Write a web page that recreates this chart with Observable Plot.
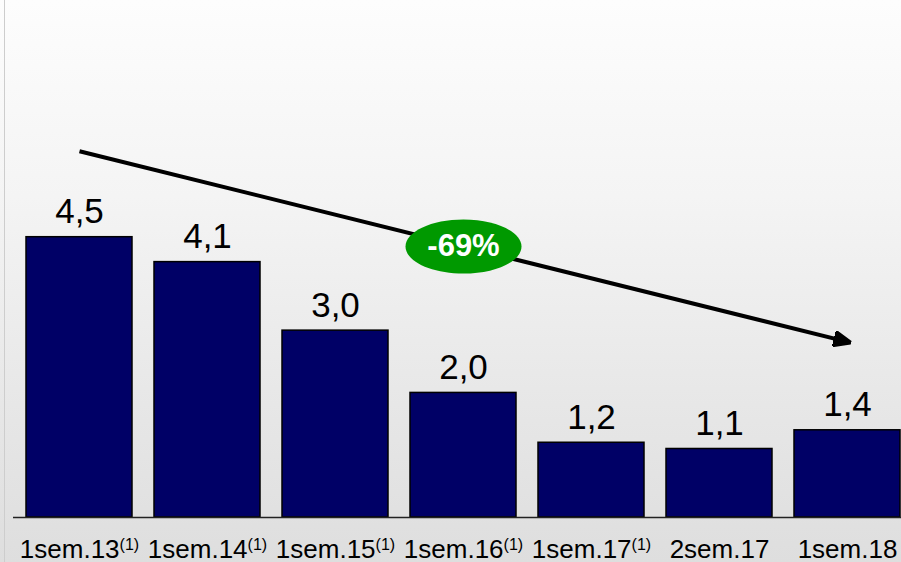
<!DOCTYPE html>
<html>
<head>
<meta charset="utf-8">
<script src="https://cdn.jsdelivr.net/npm/d3@7"></script>
<script src="https://cdn.jsdelivr.net/npm/@observablehq/plot@0.6"></script>
<style>
html, body { margin: 0; padding: 0; width: 901px; height: 562px; overflow: hidden; }
body {
  position: relative;
  background: linear-gradient(to bottom, #fdfdfd 0%, #f4f4f4 35%, #e6e6e6 75%, #dedede 100%);
  font-family: "Liberation Sans", Arial, sans-serif;
}
#edge { position: absolute; left: 4px; top: 0; width: 1px; height: 562px; background: #cdcdcd; }
#chart { position: absolute; left: 0; top: 0; }
</style>
</head>
<body>
<div id="edge"></div>
<div id="chart"></div>
<script>
// ---- data ----
const categories = ["1sem.13", "1sem.14", "1sem.15", "1sem.16", "1sem.17", "2sem.17", "1sem.18"];
const notes = ["(1)", "(1)", "(1)", "(1)", "(1)", "", ""];
const values = [4.5, 4.1, 3.0, 2.0, 1.2, 1.1, 1.4];
const valueLabels = ["4,5", "4,1", "3,0", "2,0", "1,2", "1,1", "1,4"];
const trendFrom = ["1sem.13"];
const trendTo = ["1sem.18"];
const trendStart = [5.88];
const trendEnd = [2.82];
const changeLabel = ["-69%"];
const changeAt = ["1sem.16"];
const changeLevel = [4.35];

// ---- tables built from the arrays ----
const data = categories.map((c, i) => ({cat: c, value: values[i], label: valueLabels[i]}));
const trend = trendFrom.map((f, i) => ({from: f, to: trendTo[i], y1: trendStart[i], y2: trendEnd[i]}));
const change = changeLabel.map((t, i) => ({cat: changeAt[i], y: changeLevel[i], text: t}));

const ellipse = {
  draw(ctx) {
    const rx = 58, ry = 27, k = 0.5523;
    ctx.moveTo(rx, 0);
    ctx.bezierCurveTo(rx, ry * k, rx * k, ry, 0, ry);
    ctx.bezierCurveTo(-rx * k, ry, -rx, ry * k, -rx, 0);
    ctx.bezierCurveTo(-rx, -ry * k, -rx * k, -ry, 0, -ry);
    ctx.bezierCurveTo(rx * k, -ry, rx, -ry * k, rx, 0);
    ctx.closePath();
  }
};

const chart = Plot.plot({
  width: 913,
  height: 562,
  marginLeft: 13,
  marginRight: 0,
  marginTop: 0,
  marginBottom: 45,
  style: "background: transparent; max-width: none; overflow: visible; font-family: 'Liberation Sans', Arial, sans-serif; color: black;",
  x: {domain: categories, paddingInner: 0.17, paddingOuter: 0.085},
  y: {domain: [0, 8.3], axis: null},
  marks: [
    Plot.barY(data, {x: "cat", y: "value", fill: "#000066", stroke: "black", strokeWidth: 1.5}),
    Plot.ruleY([0], {stroke: "#222", strokeWidth: 1.5}),
    Plot.text(data, {x: "cat", y: "value", text: "label", dy: -14, lineAnchor: "bottom", fontSize: 35, fill: "black"}),
    Plot.link(trend, {
      x1: "from", y1: "y1", x2: "to", y2: "y2",
      stroke: "black", strokeWidth: 4,
      render(index, scales, values, dimensions, context, next) {
        const g = next(index, scales, values, dimensions, context);
        const ns = "http://www.w3.org/2000/svg";
        const defs = document.createElementNS(ns, "defs");
        const marker = document.createElementNS(ns, "marker");
        marker.setAttribute("id", "trend-head");
        marker.setAttribute("markerUnits", "userSpaceOnUse");
        marker.setAttribute("markerWidth", "18");
        marker.setAttribute("markerHeight", "16");
        marker.setAttribute("viewBox", "0 0 18 16");
        marker.setAttribute("refX", "14");
        marker.setAttribute("refY", "8");
        marker.setAttribute("orient", "auto");
        const tri = document.createElementNS(ns, "path");
        tri.setAttribute("d", "M0,1L17,8L0,15Z");
        tri.setAttribute("fill", "black");
        marker.appendChild(tri);
        defs.appendChild(marker);
        g.insertBefore(defs, g.firstChild);
        g.querySelectorAll("path").forEach(p => { if (p !== tri) p.setAttribute("marker-end", "url(#trend-head)"); });
        return g;
      }
    }),
    Plot.dot(change, {x: "cat", y: "y", symbol: ellipse, fill: "#009900", stroke: "none"}),
    Plot.text(change, {x: "cat", y: "y", text: "text", fill: "white", fontWeight: "bold", fontSize: 31, lineAnchor: "middle"}),
    Plot.axisX({label: null, tickSize: 0, tickPadding: 22, fontSize: 26, fill: "black"})
  ]
});

// superscript notes on the category labels
d3.select(chart).selectAll("text").each(function () {
  const i = categories.indexOf(this.textContent);
  if (i >= 0 && notes[i]) {
    d3.select(this).append("tspan").attr("dy", -8).attr("font-size", 16).text(notes[i]);
  }
});

document.getElementById("chart").appendChild(chart);
</script>
</body>
</html>
